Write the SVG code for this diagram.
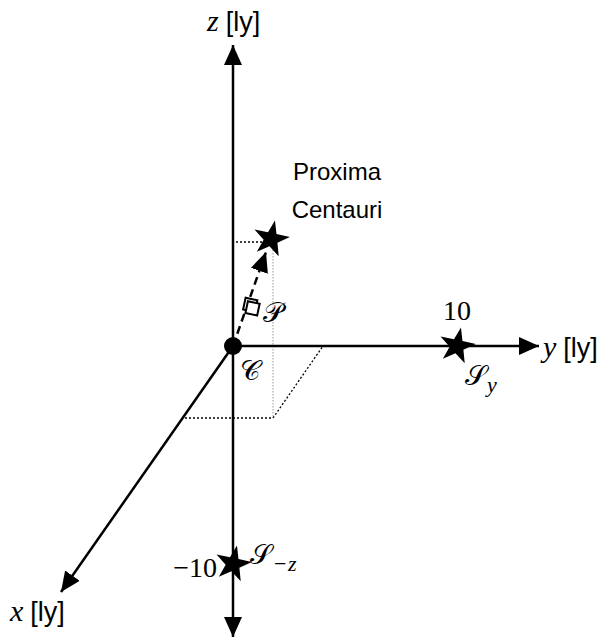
<svg xmlns="http://www.w3.org/2000/svg" width="613" height="641" viewBox="0 0 613 641">
<style>
.ax{stroke:#000;stroke-width:2.5;fill:none}
.dot{stroke:#000;stroke-width:1.3;stroke-dasharray:2 2;fill:none}
.dot2{stroke:#999;stroke-width:1;stroke-dasharray:1.5 1.5;fill:none}
.sans{font-family:"Liberation Sans",Arial,sans-serif;font-size:24px;fill:#000}
.lab{font-family:"Liberation Sans",Arial,sans-serif;font-size:27px;fill:#000}
.math{font-family:"Liberation Serif","DejaVu Serif",serif;font-style:italic;font-size:30px;fill:#000}
.num{font-family:"Liberation Serif","DejaVu Serif",serif;font-size:28px;fill:#000}
.scr{font-family:"DejaVu Sans","Noto Sans",serif;font-size:28px;fill:#000}
</style>
<defs>
<marker id="big" viewBox="0 0 20 18" refX="20" refY="9" markerWidth="20" markerHeight="18" markerUnits="userSpaceOnUse" orient="auto">
<path d="M0,0 L20,9 L0,18 Z" fill="#000"/>
</marker>
<path id="star" d="M0,-19 L4.34,-5.97 L18.07,-5.87 L7.03,2.28 L11.17,15.37 L0,7.39 L-11.17,15.37 L-7.03,2.28 L-18.07,-5.87 L-4.34,-5.97 Z" fill="#000"/>
</defs>
<g id="guides">
<path class="dot" d="M236,242 L262,242"/>
<path class="dot2" d="M273,250 L273,418"/>
<path class="dot" d="M185,418 L273,418 L323,346"/>
</g>
<g id="connectors">
<line class="ax" x1="233" y1="346" x2="233" y2="45" marker-end="url(#big)"/>
<line class="ax" x1="233" y1="346" x2="233" y2="637" marker-end="url(#big)"/>
<line class="ax" x1="233" y1="346" x2="539" y2="346" marker-end="url(#big)"/>
<line class="ax" x1="233" y1="346" x2="61" y2="592" marker-end="url(#big)"/>
<line x1="233" y1="346" x2="266" y2="252" stroke="#000" stroke-width="2.5" stroke-dasharray="8 5" marker-end="url(#big)"/>
</g>
<g id="origin">
<circle cx="233" cy="346" r="9" fill="#000"/>
<text class="scr" x="240" y="380">𝒞</text>
</g>
<g id="probe">
<g transform="rotate(12 251 306)" fill="#fff" stroke="#000" stroke-width="2">
<rect x="244" y="299" width="12" height="12"/>
<rect x="247" y="302" width="12" height="12"/>
</g>
<text class="scr" x="263" y="322">𝒫</text>
</g>
<g id="proxima">
<use href="#star" transform="translate(271,239) rotate(12)"/>
<text class="sans" x="337" y="180" text-anchor="middle">Proxima</text>
<text class="sans" x="337" y="218" text-anchor="middle">Centauri</text>
</g>
<g id="sy">
<use href="#star" transform="translate(457,346) rotate(12)"/>
<text class="num" x="457" y="320" text-anchor="middle">10</text>
<text class="scr" x="465" y="385">𝒮</text>
<text class="math" x="487" y="392" style="font-size:22px">y</text>
</g>
<g id="smz">
<use href="#star" transform="translate(233,564) rotate(12)"/>
<text class="num" x="217" y="577" text-anchor="end">−10</text>
<text class="scr" x="250" y="564">𝒮</text>
<text class="num" x="274" y="571" style="font-size:22px">−</text>
<text class="math" x="288" y="571" style="font-size:22px">z</text>
</g>
<g id="labels">
<text x="207" y="31"><tspan class="math">z</tspan><tspan class="lab" dx="7">[ly]</tspan></text>
<text x="543" y="357"><tspan class="math">y</tspan><tspan class="lab" dx="7">[ly]</tspan></text>
<text x="10" y="621"><tspan class="math">x</tspan><tspan class="lab" dx="7">[ly]</tspan></text>
</g>
</svg>
